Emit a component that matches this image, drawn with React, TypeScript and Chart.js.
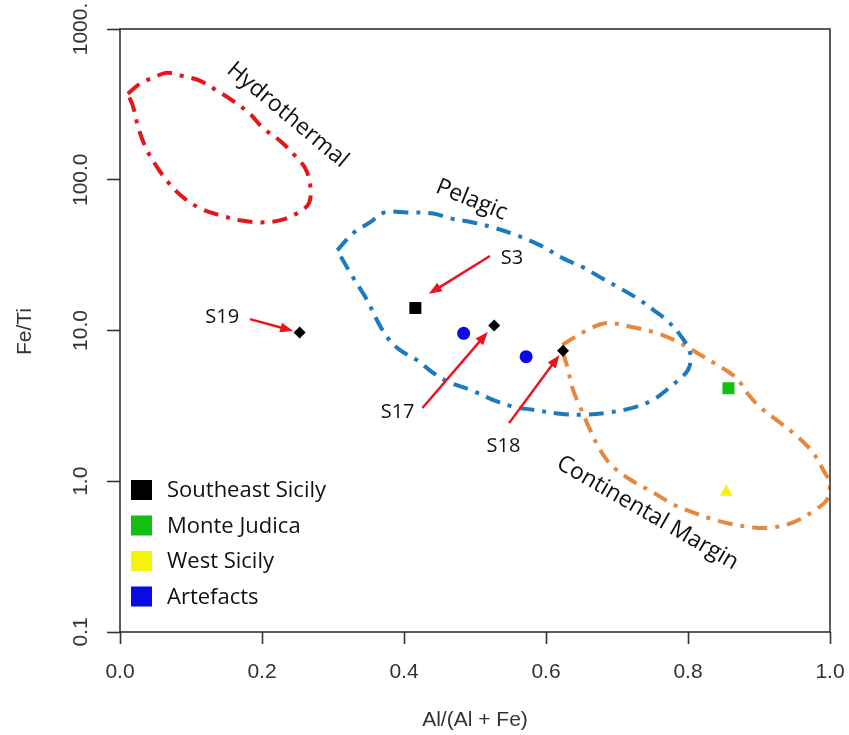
import React, { useEffect, useRef } from "react";
import { Chart, registerables } from "chart.js";

Chart.register(...registerables);

// ---------- axis ticks ----------
const xTickValues = [0, 0.2, 0.4, 0.6, 0.8, 1.0];
const xTickLabels = ["0.0", "0.2", "0.4", "0.6", "0.8", "1.0"];
const yTickValues = [0.1, 1, 10, 100, 1000];
const yTickLabels = ["0.1", "1.0", "10.0", "100.0", "1000."];
const xTitle = "Al/(Al + Fe)";
const yTitle = "Fe/Ti";

// ---------- samples ----------
const groups = ["Southeast Sicily", "Monte Judica", "West Sicily", "Artefacts"];

const seNames = ["S19", "S3", "S17", "S18"];
const seX = [0.253, 0.416, 0.527, 0.624];
const seY = [9.7, 14.1, 10.8, 7.33];

const mjX = [0.857];
const mjY = [4.14];

const wsX = [0.854];
const wsY = [0.85];

const artX = [0.484, 0.572];
const artY = [9.58, 6.7];

// ---------- discrimination fields ----------
const hydroX = [0.011, 0.028, 0.046, 0.066, 0.087, 0.113, 0.137, 0.159, 0.183, 0.201, 0.225, 0.246, 0.261, 0.268, 0.266, 0.249, 0.225, 0.197, 0.169, 0.141, 0.113, 0.089, 0.068, 0.049, 0.035, 0.025, 0.018];
const hydroY = [372, 433, 474, 512, 489, 453, 389, 334, 274, 221, 182, 145, 119, 91.6, 69.7, 59.8, 53.8, 52.1, 53.8, 58.1, 64.6, 76.4, 95.9, 128, 168, 229, 310];

const pelX = [0.306, 0.328, 0.352, 0.373, 0.404, 0.441, 0.465, 0.497, 0.525, 0.559, 0.592, 0.624, 0.652, 0.676, 0.704, 0.728, 0.751, 0.770, 0.789, 0.803, 0.800, 0.775, 0.751, 0.723, 0.686, 0.652, 0.620, 0.582, 0.554, 0.525, 0.493, 0.465, 0.441, 0.418, 0.394, 0.376, 0.362, 0.348, 0.328, 0.314];
const pelY = [34.0, 44.1, 52.1, 60.7, 60.7, 59.8, 55.5, 52.1, 48.3, 42.8, 36.7, 30.1, 26.3, 22.6, 19.1, 16.4, 13.7, 11.7, 9.33, 7.10, 5.48, 4.23, 3.47, 3.08, 2.85, 2.76, 2.80, 2.98, 3.12, 3.47, 4.05, 4.50, 5.24, 6.38, 7.43, 9.06, 11.7, 15.9, 22.6, 29.2];

const contX = [0.623, 0.658, 0.686, 0.723, 0.756, 0.789, 0.813, 0.841, 0.863, 0.873, 0.883, 0.901, 0.930, 0.954, 0.976, 0.990, 1.0, 0.996, 0.976, 0.948, 0.920, 0.892, 0.863, 0.835, 0.807, 0.779, 0.751, 0.723, 0.694, 0.676, 0.662, 0.648, 0.638, 0.630, 0.623];
const contY = [8.02, 10.07, 11.2, 10.5, 9.61, 8.26, 7.10, 5.92, 5.08, 4.56, 3.86, 3.12, 2.44, 1.98, 1.55, 1.20, 0.952, 0.757, 0.631, 0.533, 0.494, 0.494, 0.518, 0.559, 0.621, 0.702, 0.843, 0.996, 1.25, 1.62, 2.20, 3.12, 4.05, 5.74, 7.43];

// ---------- annotations (data units) ----------
const fieldLabels = ["Hydrothermal", "Pelagic", "Continental Margin"];
const fieldLabelX = [0.236, 0.495, 0.743];
const fieldLabelY = [269, 73.4, 0.616];
const fieldLabelAngle = [40, 22, 30];

const arrowLabels = ["S19", "S3", "S17", "S18"];
const arrowTextX = [0.144, 0.552, 0.391, 0.540];
const arrowTextY = [12.2, 30.3, 2.88, 1.71];
const arrowFromX = [0.183, 0.521, 0.426, 0.548];
const arrowFromY = [11.9, 31.2, 3.06, 2.43];
const arrowToX = [0.244, 0.435, 0.518, 0.619];
const arrowToY = [9.93, 17.5, 9.77, 6.88];

// ---------- styles ----------
const groupColors = ["#000000", "#14bf14", "#f4f40a", "#0a0ae6"];
const seSquareSamples = ["S3"];
const AXIS_FONT = "21px 'Liberation Sans', Arial, sans-serif";
const NOTE_FONT = "'Open Sans', 'Noto Sans', sans-serif";
const INK = "#333333";

const pts = (xs: number[], ys: number[]) => xs.map((x, i) => ({ x, y: ys[i] }));
const closed = (xs: number[], ys: number[]) => {
  const p = pts(xs, ys);
  return [...p, p[0]];
};

function drawArrow(ctx: CanvasRenderingContext2D, x1: number, y1: number, x2: number, y2: number) {
  const ang = Math.atan2(y2 - y1, x2 - x1);
  const hl = 13;
  const hw = 5;
  const bx = x2 - hl * Math.cos(ang);
  const by = y2 - hl * Math.sin(ang);
  ctx.beginPath();
  ctx.moveTo(x1, y1);
  ctx.lineTo(bx + 2 * Math.cos(ang), by + 2 * Math.sin(ang));
  ctx.stroke();
  ctx.beginPath();
  ctx.moveTo(x2, y2);
  ctx.lineTo(bx - hw * Math.sin(ang), by + hw * Math.cos(ang));
  ctx.lineTo(bx + hw * Math.sin(ang), by - hw * Math.cos(ang));
  ctx.closePath();
  ctx.fill();
}

const overlay = {
  id: "overlay",
  afterDatasetsDraw(chart: any) {
    const ctx: CanvasRenderingContext2D = chart.ctx;
    const xs = chart.scales.x;
    const ys = chart.scales.y;
    ctx.save();
    // arrows
    ctx.strokeStyle = "#e8161b";
    ctx.fillStyle = "#e8161b";
    ctx.lineWidth = 2.5;
    arrowLabels.forEach((_, i) => {
      drawArrow(
        ctx,
        xs.getPixelForValue(arrowFromX[i]),
        ys.getPixelForValue(arrowFromY[i]),
        xs.getPixelForValue(arrowToX[i]),
        ys.getPixelForValue(arrowToY[i])
      );
    });
    // sample labels
    ctx.fillStyle = "#111";
    ctx.font = `20px ${NOTE_FONT}`;
    ctx.textAlign = "center";
    ctx.textBaseline = "middle";
    arrowLabels.forEach((t, i) => {
      ctx.fillText(t, xs.getPixelForValue(arrowTextX[i]), ys.getPixelForValue(arrowTextY[i]));
    });
    // field labels
    ctx.font = `23px ${NOTE_FONT}`;
    fieldLabels.forEach((t, i) => {
      ctx.save();
      ctx.translate(xs.getPixelForValue(fieldLabelX[i]), ys.getPixelForValue(fieldLabelY[i]));
      ctx.rotate((fieldLabelAngle[i] * Math.PI) / 180);
      ctx.fillText(t, 0, 0);
      ctx.restore();
    });
    // legend
    const a = chart.chartArea;
    ctx.font = `22px ${NOTE_FONT}`;
    ctx.textAlign = "left";
    groups.forEach((g, i) => {
      const cy = a.bottom - 142 + i * 35.5;
      ctx.fillStyle = groupColors[i];
      ctx.fillRect(a.left + 11, cy - 10, 21, 20);
      ctx.fillStyle = "#111";
      ctx.fillText(g, a.left + 47, cy + 1);
    });
    ctx.restore();
  },
  afterDraw(chart: any) {
    const ctx: CanvasRenderingContext2D = chart.ctx;
    const a = chart.chartArea;
    const xs = chart.scales.x;
    const ys = chart.scales.y;
    ctx.save();
    ctx.strokeStyle = INK;
    ctx.lineWidth = 1.6;
    ctx.strokeRect(a.left, a.top, a.right - a.left, a.bottom - a.top);
    ctx.fillStyle = INK;
    ctx.font = AXIS_FONT;
    ctx.textAlign = "center";
    ctx.textBaseline = "middle";
    xTickValues.forEach((v, i) => {
      ctx.fillText(xTickLabels[i], xs.getPixelForValue(v), a.bottom + 40);
    });
    yTickValues.forEach((v, i) => {
      ctx.save();
      ctx.translate(a.left - 39, ys.getPixelForValue(v));
      ctx.rotate(-Math.PI / 2);
      ctx.fillText(yTickLabels[i], 0, 0);
      ctx.restore();
    });
    ctx.fillText(xTitle, (a.left + a.right) / 2, a.bottom + 88);
    ctx.save();
    ctx.translate(a.left - 95, (a.top + a.bottom) / 2 + 1);
    ctx.rotate(-Math.PI / 2);
    ctx.fillText(yTitle, 0, 0);
    ctx.restore();
    ctx.restore();
  },
};

export default function App() {
  const ref = useRef<HTMLCanvasElement | null>(null);
  useEffect(() => {
    if (!ref.current) return;
    const fieldStyle = (color: string) => ({
      showLine: true,
      borderColor: color,
      backgroundColor: color,
      borderWidth: 4,
      borderDash: [15, 8, 4, 8],
      borderCapStyle: "butt" as const,
      pointRadius: 0,
      fill: false,
      tension: 0.35,
    });
    const chart = new Chart(ref.current, {
      type: "scatter",
      data: {
        datasets: [
          {
            label: groups[0],
            data: pts(seX, seY),
            pointStyle: seNames.map((n) => (seSquareSamples.includes(n) ? "rect" : "rectRot")) as any,
            pointRadius: seNames.map((n) => (seSquareSamples.includes(n) ? 8.5 : 6)),
            backgroundColor: groupColors[0],
            borderColor: groupColors[0],
            borderWidth: 0,
          },
          {
            label: groups[1],
            data: pts(mjX, mjY),
            pointStyle: "rect",
            pointRadius: 8.5,
            backgroundColor: groupColors[1],
            borderWidth: 0,
          },
          {
            label: groups[2],
            data: pts(wsX, wsY),
            pointStyle: "triangle",
            pointRadius: 7.5,
            backgroundColor: groupColors[2],
            borderWidth: 0,
          },
          {
            label: groups[3],
            data: pts(artX, artY),
            pointStyle: "circle",
            pointRadius: 6.5,
            backgroundColor: groupColors[3],
            borderWidth: 0,
          },
          { label: "Hydrothermal", data: closed(hydroX, hydroY), ...fieldStyle("#e3161c") } as any,
          { label: "Pelagic", data: closed(pelX, pelY), ...fieldStyle("#1d7bbd") } as any,
          { label: "Continental Margin", data: closed(contX, contY), ...fieldStyle("#e6883e") } as any,
        ],
      },
      options: {
        responsive: false,
        animation: false,
        events: [],
        layout: { padding: { left: 8, top: 29, right: 19, bottom: 0 } },
        plugins: { legend: { display: false }, tooltip: { enabled: false } },
        scales: {
          x: {
            type: "linear",
            min: 0,
            max: 1,
            afterBuildTicks: (s: any) => {
              s.ticks = xTickValues.map((value) => ({ value }));
            },
            afterFit: (s: any) => {
              s.height = 103;
            },
            ticks: { display: false },
            border: { display: false },
            grid: {
              display: true,
              drawOnChartArea: false,
              drawTicks: true,
              tickLength: 12,
              tickColor: INK,
              tickWidth: 1.6,
            },
          },
          y: {
            type: "logarithmic",
            min: 0.1,
            max: 1000,
            afterBuildTicks: (s: any) => {
              s.ticks = yTickValues.map((value) => ({ value }));
            },
            afterFit: (s: any) => {
              s.width = 112;
            },
            ticks: { display: false },
            border: { display: false },
            grid: {
              display: true,
              drawOnChartArea: false,
              drawTicks: true,
              tickLength: 13,
              tickColor: INK,
              tickWidth: 1.6,
            },
          },
        },
      },
      plugins: [overlay],
    });
    return () => chart.destroy();
  }, []);
  return (
    <div style={{ position: "absolute", left: 0, top: 0, width: 849, height: 735, background: "#fff" }}>
      <canvas ref={ref} width={849} height={735} style={{ display: "block" }} />
    </div>
  );
}
